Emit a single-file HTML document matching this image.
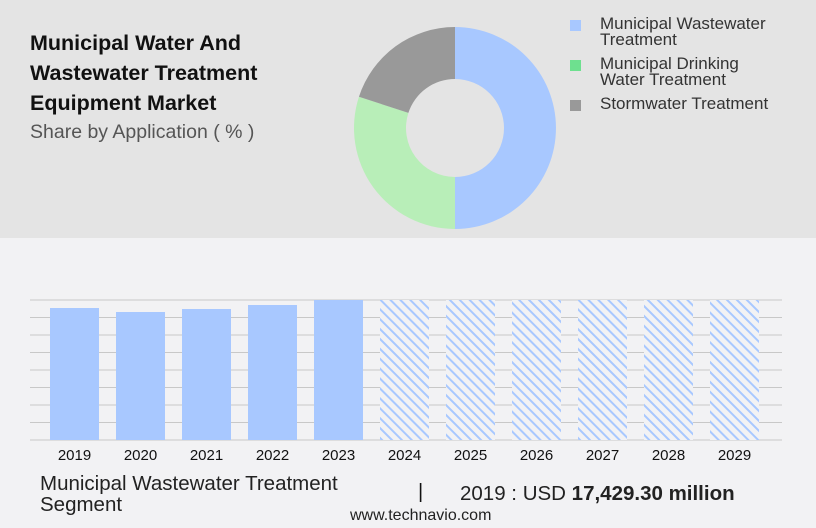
<!DOCTYPE html>
<html><head><meta charset="utf-8"><style>
body{margin:0;width:816px;height:528px;overflow:hidden;background:#f2f2f4;font-family:"Liberation Sans",sans-serif;position:relative}
.top{position:absolute;left:0;top:0;width:816px;height:238px;background:#e4e4e4}
.t{position:absolute;color:#111;white-space:nowrap}
</style></head><body>
<div class="top"></div>
<div class="t" style="left:30px;top:28px;font-size:21.5px;font-weight:bold;line-height:30px">Municipal Water And<br>Wastewater Treatment<br>Equipment Market</div>
<div class="t" style="left:30px;top:121px;font-size:19.5px;color:#555">Share by Application ( % )</div>
<svg id="donut" style="position:absolute;left:0;top:0" width="816" height="238"></svg>
<div style="position:absolute;left:570px;top:14px;font-size:17px;color:#333;line-height:16px">
<div style="position:absolute;top:2px;width:220px"><span style="position:absolute;left:0;top:4px;width:11px;height:11px;background:#a8c8ff"></span><span style="position:absolute;left:30px;white-space:nowrap">Municipal Wastewater<br>Treatment</span></div>
<div style="position:absolute;top:42px;width:220px"><span style="position:absolute;left:0;top:4px;width:11px;height:11px;background:#6ee08f"></span><span style="position:absolute;left:30px;white-space:nowrap">Municipal Drinking<br>Water Treatment</span></div>
<div style="position:absolute;top:82px;width:220px"><span style="position:absolute;left:0;top:4px;width:11px;height:11px;background:#999"></span><span style="position:absolute;left:30px;white-space:nowrap">Stormwater Treatment</span></div>
</div>
<svg id="bars" style="position:absolute;left:0;top:0" width="816" height="528">
<defs><pattern id="hatch" width="7" height="7" patternUnits="userSpaceOnUse" patternTransform="rotate(-45)"><rect width="7" height="7" fill="#f2f2f4"/><rect width="2" height="7" fill="#a8c8ff"/></pattern></defs>
</svg>
<div class="t" style="left:40px;top:473px;font-size:20.5px;line-height:21px;color:#222">Municipal Wastewater Treatment<br>Segment</div>
<div class="t" style="left:418px;top:481px;font-size:20px">|</div>
<div class="t" style="left:460px;top:482px;font-size:20.5px;color:#222">2019 : USD <b>17,429.30 million</b></div>
<div class="t" style="left:350px;top:507px;font-size:16px;color:#222">www.technavio.com</div>
<script>
const shares=[50,30,20];
const shareColors=["#a8c8ff","#b8eeb8","#999999"];
const years=["2019","2020","2021","2022","2023","2024","2025","2026","2027","2028","2029"];
const values=[17429.3,16901,17297,17825,18486,18486,18486,18486,18486,18486,18486];
const forecast=[false,false,false,false,false,true,true,true,true,true,true];
const NS="http://www.w3.org/2000/svg";
const d=document.getElementById('donut');
let cx=455,cy=128,R=101,r=49,a0=0;const tot=shares.reduce((a,b)=>a+b,0);
function pt(a,rad){return [cx+rad*Math.sin(a),cy-rad*Math.cos(a)];}
shares.forEach((s,i)=>{const a1=a0+s/tot*2*Math.PI;const lg=a1-a0>Math.PI?1:0;
const p1=pt(a0,R),p2=pt(a1,R),p3=pt(a1,r),p4=pt(a0,r);
const p=document.createElementNS(NS,'path');
p.setAttribute('d',`M${p1}A${R},${R} 0 ${lg} 1 ${p2}L${p3}A${r},${r} 0 ${lg} 0 ${p4}Z`);
p.setAttribute('fill',shareColors[i]);


d.appendChild(p);a0=a1;});
const b=document.getElementById('bars');
const yTop=300,yBot=440,max=18486;
const y=v=>yBot-(v/max)*(yBot-yTop);
const x=i=>50+i*66;
for(let k=0;k<=8;k++){const l=document.createElementNS(NS,'line');const yy=yTop+k*(yBot-yTop)/8;
l.setAttribute('x1',30);l.setAttribute('x2',782);l.setAttribute('y1',yy);l.setAttribute('y2',yy);l.setAttribute('stroke','#c8c8c8');


b.appendChild(l);}
years.forEach((yr,i)=>{const rc=document.createElementNS(NS,'rect');
rc.setAttribute('x',x(i));rc.setAttribute('width',49);rc.setAttribute('y',y(values[i]));rc.setAttribute('height',yBot-y(values[i]));
rc.setAttribute('fill',forecast[i]?'url(#hatch)':'#a8c8ff');


b.appendChild(rc);
const t=document.createElementNS(NS,'text');t.setAttribute('x',x(i)+24.5);t.setAttribute('y',460);t.setAttribute('text-anchor','middle');t.setAttribute('font-size','15');t.setAttribute('fill','#111');t.textContent=yr;


b.appendChild(t);});
</script>
</body></html>
